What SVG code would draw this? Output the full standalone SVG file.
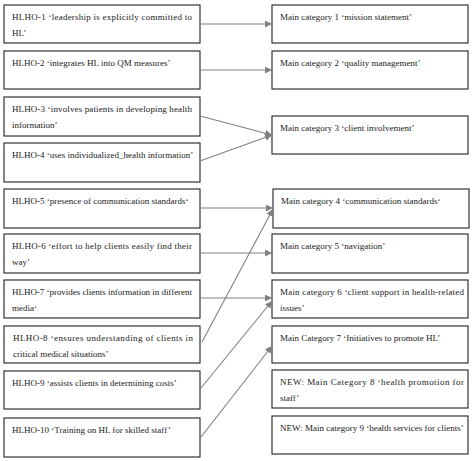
<svg xmlns="http://www.w3.org/2000/svg" width="474" height="461" viewBox="0 0 474 461">
<defs>
<style>
.box{fill:#fff;stroke:#333;stroke-width:1.2}
text{font-family:"Liberation Serif","Times New Roman",serif;font-size:9px;fill:#222}
.c line{stroke:#808080;stroke-width:1.1}
</style>
<marker id="ah" markerUnits="userSpaceOnUse" markerWidth="8" markerHeight="7" refX="7" refY="3.5" orient="auto">
<path d="M0,0 L7,3.5 L0,7 Z" fill="#808080"/>
</marker>
</defs>
<rect width="474" height="461" fill="#fff"/>
<g id="l1"><rect class="box" x="4" y="5" width="196" height="38"/><text x="12" y="20" textLength="180" lengthAdjust="spacing">HLHO-1 ‘leadership is explicitly committed to</text><text x="12" y="36">HL’</text></g>
<g id="l2"><rect class="box" x="4" y="51" width="196" height="38"/><text x="12" y="66">HLHO-2 ‘integrates HL into QM measures’</text></g>
<g id="l3"><rect class="box" x="4" y="97" width="196" height="39"/><text x="12" y="112" textLength="180" lengthAdjust="spacing">HLHO-3 ‘involves patients in developing health</text><text x="12" y="128">information’</text></g>
<g id="l4"><rect class="box" x="4" y="143" width="196" height="39"/><text x="12" y="158">HLHO-4 ‘uses individualized_health information’</text></g>
<g id="l5"><rect class="box" x="4" y="189" width="196" height="39"/><text x="12" y="204">HLHO-5 ‘presence of communication standards‘</text></g>
<g id="l6"><rect class="box" x="4" y="234" width="196" height="39"/><text x="12" y="249" textLength="180" lengthAdjust="spacing">HLHO-6 ‘effort to help clients easily find their</text><text x="12" y="265">way’</text></g>
<g id="l7"><rect class="box" x="4" y="280" width="196" height="38"/><text x="12" y="295" textLength="180" lengthAdjust="spacing">HLHO-7 ‘provides clients information in different</text><text x="12" y="311">media‘</text></g>
<g id="l8"><rect class="box" x="4" y="326" width="196" height="37"/><text x="13" y="341" textLength="180" lengthAdjust="spacing">HLHO-8 ‘ensures understanding of clients in</text><text x="13" y="357">critical medical situations’</text></g>
<g id="l9"><rect class="box" x="4" y="371" width="196" height="38"/><text x="12" y="386">HLHO-9 ‘assists clients in determining costs’</text></g>
<g id="l10"><rect class="box" x="4" y="418" width="196" height="39"/><text x="12" y="433">HLHO-10 ‘Training on HL for skilled staff’</text></g>

<g id="r1"><rect class="box" x="272" y="5" width="196" height="38"/><text x="280" y="20">Main category 1 ‘mission statement’</text></g>
<g id="r2"><rect class="box" x="272" y="51" width="196" height="38"/><text x="280" y="66">Main category 2 ‘quality management’</text></g>
<g id="r3"><rect class="box" x="272" y="116" width="196" height="38"/><text x="280" y="131">Main category 3 ‘client involvement’</text></g>
<g id="r4"><rect class="box" x="273" y="189" width="196" height="39"/><text x="281" y="204">Main category 4 ‘communication standards‘</text></g>
<g id="r5"><rect class="box" x="272" y="234" width="196" height="39"/><text x="280" y="249">Main category 5 ‘navigation’</text></g>
<g id="r6"><rect class="box" x="272" y="280" width="196" height="38"/><text x="280" y="295" textLength="184" lengthAdjust="spacing">Main category 6 ‘client support in health-related</text><text x="280" y="311">issues’</text></g>
<g id="r7"><rect class="box" x="272" y="326" width="196" height="37"/><text x="280" y="341">Main Category 7 ‘Initiatives to promote HL’</text></g>
<g id="r8"><rect class="box" x="272" y="370" width="196" height="38"/><text x="280" y="385" textLength="184" lengthAdjust="spacing">NEW: Main Category 8 ‘health promotion for</text><text x="280" y="401">staff’</text></g>
<g id="r9"><rect class="box" x="272" y="416" width="196" height="38"/><text x="280" y="431">NEW: Main category 9 ‘health services for clients’</text></g>

<g id="connectors" class="c">
<line x1="200" y1="24" x2="272" y2="24" marker-end="url(#ah)"/>
<line x1="200" y1="70" x2="272" y2="70" marker-end="url(#ah)"/>
<line x1="200" y1="116" x2="272" y2="135" marker-end="url(#ah)"/>
<line x1="200" y1="161" x2="272" y2="135" marker-end="url(#ah)"/>
<line x1="200" y1="208" x2="273" y2="208" marker-end="url(#ah)"/>
<line x1="202" y1="342" x2="273" y2="209" marker-end="url(#ah)"/>
<line x1="200" y1="253" x2="272" y2="253" marker-end="url(#ah)"/>
<line x1="200" y1="298" x2="272" y2="298" marker-end="url(#ah)"/>
<line x1="201" y1="388" x2="272" y2="301" marker-end="url(#ah)"/>
<line x1="201" y1="437" x2="272" y2="346" marker-end="url(#ah)"/>
</g>
</svg>
